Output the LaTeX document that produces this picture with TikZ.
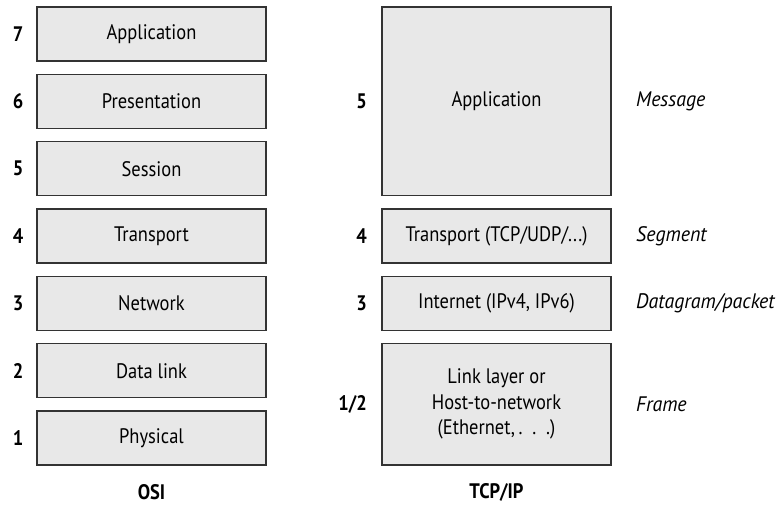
\documentclass[tikz,border=0pt]{standalone}
\usepackage{fontspec}
\setmainfont[FakeStretch=0.88]{PT Sans}
\newfontfamily\pdufont[FakeStretch=0.95]{PT Sans}
\begin{document}
\begin{tikzpicture}[x=1pt,y=-1pt,
  layer/.style={draw=black!80,fill=black!9,line width=1.3pt,inner sep=0pt,
    minimum width=229pt,minimum height=54pt,font=\fontsize{21}{25.5}\selectfont,align=center},
  num/.style={font=\fontsize{21}{25}\selectfont\bfseries,inner sep=0pt},
  pdu/.style={font=\fontsize{21}{25}\pdufont\itshape,anchor=west,inner sep=0pt},
  title/.style={font=\fontsize{21}{25}\selectfont\bfseries,inner sep=0pt}]
\useasboundingbox (0,0) rectangle (784,511);
% OSI
\node[layer] (o7) at (151.5,34) {Application};
\node[layer] (o6) at (151.5,101.3) {Presentation};
\node[layer] (o5) at (151.5,168.7) {Session};
\node[layer] (o4) at (151.5,236) {Transport};
\node[layer] (o3) at (151.5,303.3) {Network};
\node[layer] (o2) at (151.5,370.7) {Data link};
\node[layer] (o1) at (151.5,438) {Physical};
\foreach \n in {7,6,5,4,3,2,1}{
  \node[num] (on\n) at (18,0 |- o\n) {\n};
}
\node[title] (osi) at (151.5,492) {OSI};
% TCP/IP
\node[layer,minimum height=188.7pt] (t5) at (496.5,101.3) {Application};
\node[layer] (t4) at (496.5,236) {Transport (TCP/UDP/...)};
\node[layer] (t3) at (496.5,303.3) {Internet (IPv4, IPv6)};
\node[layer,minimum height=121.3pt] (t1) at (496.5,404.3) {Link layer or\\Host-to-network\\(Ethernet,\,.\ \ .\ \ .)};
\node[num,anchor=east] (tn5) at (367,0 |- t5) {5};
\node[num,anchor=east] (tn4) at (367,0 |- t4) {4};
\node[num,anchor=east] (tn3) at (367,0 |- t3) {3};
\node[num,anchor=east] (tn1) at (367,0 |- t1) {1/2};
\node[title] (tcp) at (496.5,492) {TCP/IP};
% PDUs
\node[pdu] (p5) at (636,0 |- t5) {Message};
\node[pdu] (p4) at (636,0 |- t4) {Segment};
\node[pdu] (p3) at (636,0 |- t3) {Datagram/packet};
\node[pdu] (p1) at (636,0 |- t1) {Frame};
\end{tikzpicture}
\end{document}
